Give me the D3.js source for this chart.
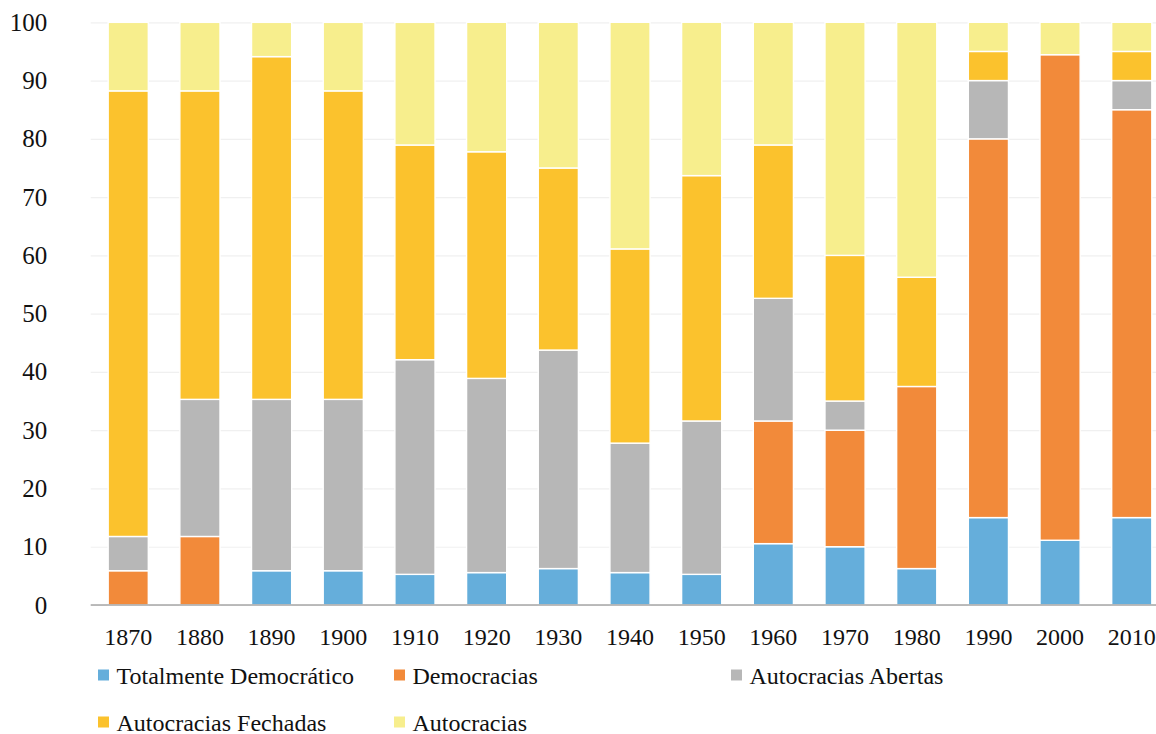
<!DOCTYPE html>
<html>
<head>
<meta charset="utf-8">
<script src="https://cdn.jsdelivr.net/npm/d3@7"></script>
<style>
  html, body { margin: 0; padding: 0; background: #fff; }
  svg { display: block; }
</style>
</head>
<body>
<svg id="chart" width="1156" height="734"></svg>
<script>
// Share of regimes per decade (percent)
const years = ["1870","1880","1890","1900","1910","1920","1930","1940","1950","1960","1970","1980","1990","2000","2010"];
const totalmenteDemocratico = [0, 0, 5.88, 5.88, 5.26, 5.56, 6.25, 5.56, 5.26, 10.53, 10, 6.25, 15, 11.11, 15];
const democracias          = [5.88, 11.76, 0, 0, 0, 0, 0, 0, 0, 21.05, 20, 31.25, 65, 83.33, 70];
const autocraciasAbertas   = [5.88, 23.53, 29.41, 29.41, 36.84, 33.33, 37.5, 22.22, 26.32, 21.05, 5, 0, 10, 0, 5];
const autocraciasFechadas  = [76.47, 52.94, 58.82, 52.94, 36.84, 38.89, 31.25, 33.33, 42.11, 26.32, 25, 18.75, 5, 0, 5];
const autocracias          = [11.76, 11.76, 5.88, 11.76, 21.05, 22.22, 25, 38.89, 26.32, 21.05, 40, 43.75, 5, 5.56, 5];
const yTicks = [0, 10, 20, 30, 40, 50, 60, 70, 80, 90, 100];

const seriesNames = ["Totalmente Democrático", "Democracias", "Autocracias Abertas", "Autocracias Fechadas", "Autocracias"];
const seriesValues = [totalmenteDemocratico, democracias, autocraciasAbertas, autocraciasFechadas, autocracias];
const colors = ["#65aedb", "#f28a3a", "#b7b7b7", "#fbc22d", "#f7ee8d"];

const FONT = "'Liberation Serif', serif";

const rows = years.map((yr, i) => {
  const r = { year: yr };
  seriesNames.forEach((n, k) => { r[n] = seriesValues[k][i]; });
  return r;
});

const svg = d3.select("#chart");
const plotLeft = 90.7, plotBottom = 605, plotTop = 22.3;
const bandStart = 92.4, step = 71.68;

const x = d3.scaleBand()
  .domain(years)
  .range([bandStart, bandStart + step * years.length])
  .paddingInner(0.44)
  .paddingOuter(0.22);

const y = d3.scaleLinear().domain([0, 100]).range([plotBottom, plotTop]);

// Grid + y labels
const yAxis = svg.append("g")
  .attr("transform", `translate(${plotLeft},0)`)
  .call(d3.axisLeft(y).tickValues(yTicks).tickSize(-(1170 - plotLeft)).tickPadding(43.5));
yAxis.attr("font-family", null).attr("font-size", null);
yAxis.select(".domain").remove();
yAxis.selectAll(".tick line").attr("stroke", "#f0f0f0").attr("stroke-width", 1.2);
yAxis.selectAll(".tick text")
  .attr("fill", "#111")
  .style("font-family", FONT)
  .style("font-size", "25px");

// Stacked bars
const stack = d3.stack().keys(seriesNames);
const layers = stack(rows);

svg.append("g").selectAll("g")
  .data(layers)
  .join("g")
  .attr("fill", (d, i) => colors[i])
  .selectAll("rect")
  .data(d => d.filter(s => s[1] - s[0] > 0))
  .join("rect")
  .attr("x", d => x(d.data.year))
  .attr("width", x.bandwidth())
  .attr("y", d => y(d[1]))
  .attr("height", d => y(d[0]) - y(d[1]))
  .attr("stroke", "#fff")
  .attr("stroke-width", 1.4);

// x axis
const xAxis = svg.append("g")
  .attr("transform", `translate(0,${plotBottom})`)
  .call(d3.axisBottom(x).tickSize(0).tickPadding(23));
xAxis.attr("font-family", null).attr("font-size", null);
xAxis.select(".domain").attr("stroke", "#a6a6a6").attr("stroke-width", 1.6)
  .attr("d", `M${plotLeft},0H1170`);
xAxis.selectAll(".tick text")
  .attr("fill", "#111")
  .style("font-family", FONT)
  .style("font-size", "24px");

// Legend
const legendPos = [
  { x: 98, y: 675 },
  { x: 394, y: 675 },
  { x: 731, y: 675 },
  { x: 98, y: 722 },
  { x: 394, y: 722 }
];
const legend = svg.append("g").selectAll("g")
  .data(seriesNames)
  .join("g")
  .attr("transform", (d, i) => `translate(${legendPos[i].x},${legendPos[i].y})`);
legend.append("rect")
  .attr("x", 0).attr("y", -5.5).attr("width", 11).attr("height", 11)
  .attr("fill", (d, i) => colors[i]);
legend.append("text")
  .attr("x", 18.5).attr("y", 8.5)
  .attr("fill", "#111")
  .style("font-family", FONT)
  .style("font-size", "24px")
  .text(d => d);
</script>
</body>
</html>
